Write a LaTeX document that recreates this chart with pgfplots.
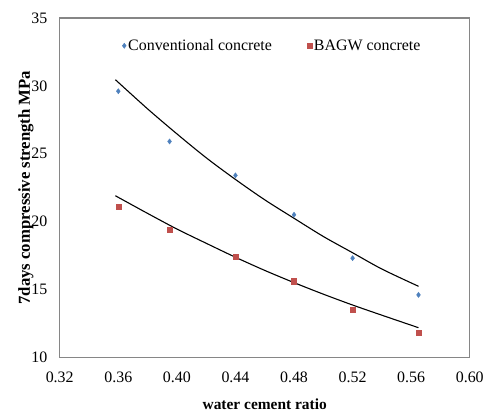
\documentclass[border=0pt]{standalone}
\usepackage{fontspec}
\setmainfont{Liberation Serif}
\usepackage{pgfplots}
\pgfplotsset{compat=1.18}
\definecolor{CONV}{HTML}{4F81BD}
\definecolor{BAGW}{HTML}{C0504D}
\definecolor{FRAME}{HTML}{868686}

\begin{document}
\begin{tikzpicture}[x=1pt,y=1pt]
\path (-60,-55) rectangle (427,359);
\begin{axis}[
  at={(0,0)}, anchor=south west,
  scale only axis, width=412pt, height=341pt,
  xmin=0.32, xmax=0.60, ymin=10, ymax=35,
  xtick={0.32,0.36,...,0.601}, ytick={10,15,...,35},
  /pgf/number format/assume math mode=true,
  xticklabel style={/pgf/number format/fixed, /pgf/number format/fixed zerofill,
    /pgf/number format/precision=2, yshift=-11pt},
  tick label style={font=\fontsize{16}{17}\selectfont},
  yticklabel style={xshift=-9pt},
  major tick length=0pt,
  axis line style={FRAME, line width=1.2pt},
  xlabel={\textbf{water cement ratio}},
  ylabel={\textbf{7days compressive strength MPa}},
  xlabel style={font=\fontsize{15.5}{16}\selectfont, inner sep=0pt,
    at={(axis description cs:0.5,0)}, anchor=base, yshift=-52pt},
  ylabel style={font=\fontsize{16.8}{17}\selectfont, inner sep=0pt,
    at={(axis description cs:0,0.5)}, anchor=south, yshift=26pt},
  legend style={draw=none, fill=none, at={(0.145,0.918)}, anchor=west,
    font=\fontsize{16}{17}\selectfont, legend columns=2,
    /tikz/every even column/.append style={column sep=33pt}},
  legend cell align=left,
  legend image code/.code={\draw[#1] plot coordinates {(0pt,0pt)};},
]
\addplot[only marks, mark=diamond*, mark size=2.6pt, color=CONV] coordinates {
  (0.36,29.6) (0.395,25.9) (0.44,23.4) (0.48,20.5) (0.52,17.3) (0.565,14.6)
};
\addlegendentry{Conventional concrete}
\addplot[only marks, mark=square*, mark size=2.6pt, color=BAGW] coordinates {
  (0.36,21.1) (0.395,19.4) (0.44,17.4) (0.48,15.6) (0.52,13.5) (0.565,11.8)
};
\addlegendentry{BAGW concrete}
\addplot[black, line width=1.1pt, smooth, forget plot] coordinates {
  (0.358,30.45) (0.38,28.3) (0.40,26.46) (0.42,24.7) (0.44,23.1) (0.46,21.6)
  (0.48,20.24) (0.50,18.9) (0.52,17.7) (0.54,16.5) (0.565,15.23)
};
\addplot[black, line width=1.1pt, smooth, forget plot] coordinates {
  (0.358,21.9) (0.38,20.6) (0.40,19.45) (0.42,18.4) (0.44,17.37) (0.46,16.4)
  (0.48,15.5) (0.50,14.65) (0.52,13.85) (0.54,13.1) (0.565,12.18)
};
\end{axis}
\end{tikzpicture}
\end{document}
